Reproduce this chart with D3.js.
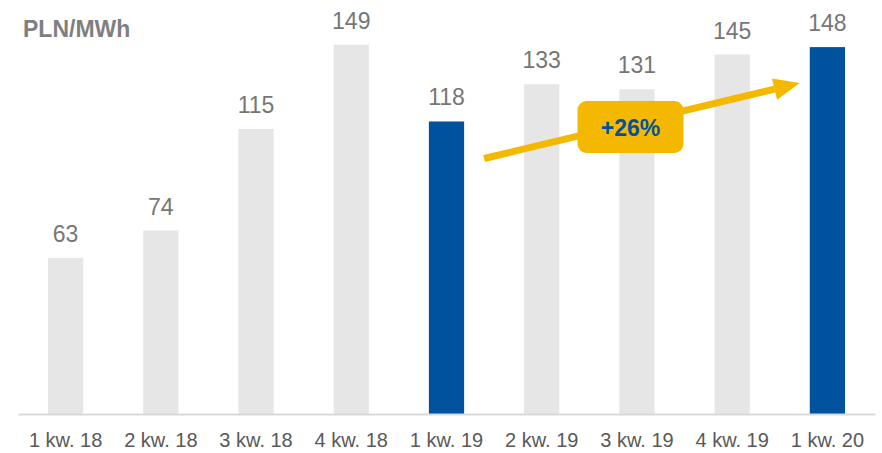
<!DOCTYPE html>
<html>
<head>
<meta charset="utf-8">
<script src="https://cdn.jsdelivr.net/npm/d3@7"></script>
<style>
  body { margin: 0; background: #fff; }
  svg { display: block; font-family: "Liberation Sans", Arial, sans-serif; }
</style>
</head>
<body>
<svg id="chart" width="882" height="453"></svg>
<script>
var categories = ['1 kw. 18', '2 kw. 18', '3 kw. 18', '4 kw. 18', '1 kw. 19', '2 kw. 19', '3 kw. 19', '4 kw. 19', '1 kw. 20']
var values = [63, 74, 115, 149, 118, 133, 131, 145, 148]
var highlighted = ['1 kw. 19', '1 kw. 20']
var unitLabel = 'PLN/MWh'
var growthLabel = '+26%'

var width = 882,
    height = 453,
    baseline = 414

var svg = d3.select('#chart')

var x = d3.scaleBand()
    .domain(categories)
    .range([18, 875])
    .paddingInner(0.63)
    .paddingOuter(0.315)

var y = d3.scaleLinear()
    .domain([0, 167])
    .range([baseline, 0])

// bars
svg.append('g')
    .selectAll('rect')
    .data(values)
    .join('rect')
    .attr('x', (d, i) => x(categories[i]))
    .attr('y', d => y(d))
    .attr('width', x.bandwidth())
    .attr('height', d => y(0) - y(d))
    .attr('fill', (d, i) => highlighted.includes(categories[i]) ? '#00529f' : '#e6e6e6')

// value labels
svg.append('g')
    .selectAll('text')
    .data(values)
    .join('text')
    .attr('x', (d, i) => x(categories[i]) + x.bandwidth() / 2)
    .attr('y', d => y(d) - 16)
    .attr('text-anchor', 'middle')
    .attr('font-size', 23)
    .attr('fill', '#767676')
    .text(d => d)

// x axis
var xAxis = d3.axisBottom(x).tickSize(0).tickPadding(19)
var axisG = svg.append('g')
    .attr('transform', 'translate(0,' + baseline + ')')
    .call(xAxis)
axisG.select('.domain').attr('stroke', '#d9d9d9').attr('stroke-width', 2)
axisG.selectAll('text')
    .attr('font-size', 20)
    .attr('fill', '#595959')
    .attr('font-family', '"Liberation Sans", Arial, sans-serif')

// unit title
svg.append('text')
    .attr('x', 23)
    .attr('y', 37)
    .attr('font-size', 23)
    .attr('font-weight', 'bold')
    .attr('fill', '#7f7f7f')
    .text(unitLabel)

// growth arrow between highlighted bars
var from = highlighted[0], to = highlighted[1]
var x0 = x(from) + x.bandwidth() + 20,
    y0 = y(values[categories.indexOf(from)]) + 37,
    x1 = x(to) - 10,
    y1 = y(values[categories.indexOf(to)]) + 36
var ang = Math.atan2(y1 - y0, x1 - x0)
var headLen = 26, headHalf = 11
var bx = x1 - headLen * Math.cos(ang), by = y1 - headLen * Math.sin(ang)

svg.append('line')
    .attr('x1', x0).attr('y1', y0)
    .attr('x2', bx).attr('y2', by)
    .attr('stroke', '#f5b800')
    .attr('stroke-width', 7)

svg.append('path')
    .attr('d', 'M' + x1 + ',' + y1 +
        'L' + (bx - headHalf * Math.sin(ang)) + ',' + (by + headHalf * Math.cos(ang)) +
        'L' + (bx + headHalf * Math.sin(ang)) + ',' + (by - headHalf * Math.cos(ang)) + 'Z')
    .attr('fill', '#f5b800')

// growth badge
var bcx = 630.5, bcy = 127
svg.append('rect')
    .attr('x', bcx - 53).attr('y', bcy - 26)
    .attr('width', 106).attr('height', 52)
    .attr('rx', 9)
    .attr('fill', '#f5b800')

svg.append('text')
    .attr('x', bcx)
    .attr('y', bcy + 9)
    .attr('text-anchor', 'middle')
    .attr('font-size', 23)
    .attr('font-weight', 'bold')
    .attr('fill', '#00529f')
    .text(growthLabel)
</script>
</body>
</html>
